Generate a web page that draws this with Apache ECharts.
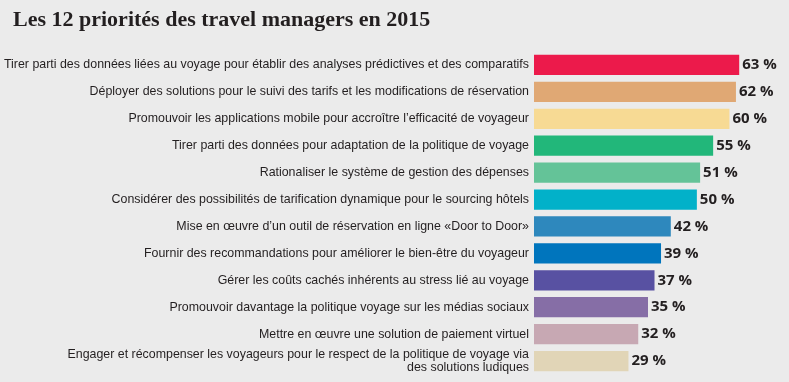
<!DOCTYPE html>
<html><head><meta charset="utf-8">
<script src="https://cdn.jsdelivr.net/npm/echarts@6/dist/echarts.min.js"></script>
<style>html,body{margin:0;padding:0;background:#ebebeb}#c{width:789px;height:382px}</style>
</head><body><div id="c"></div>
<script>
const categories = [
  "Tirer parti des données liées au voyage pour établir des analyses prédictives et des comparatifs",
  "Déployer des solutions pour le suivi des tarifs et les modifications de réservation",
  "Promouvoir les applications mobile pour accroître l’efficacité de voyageur",
  "Tirer parti des données pour adaptation de la politique de voyage",
  "Rationaliser le système de gestion des dépenses",
  "Considérer des possibilités de tarification dynamique pour le sourcing hôtels",
  "Mise en œuvre d’un outil de réservation en ligne «Door to Door»",
  "Fournir des recommandations pour améliorer le bien-être du voyageur",
  "Gérer les coûts cachés inhérents au stress lié au voyage",
  "Promouvoir davantage la politique voyage sur les médias sociaux",
  "Mettre en œuvre une solution de paiement virtuel",
  "Engager et récompenser les voyageurs pour le respect de la politique de voyage via\ndes solutions ludiques"
];
const values = [63, 62, 60, 55, 51, 50, 42, 39, 37, 35, 32, 29];
const colors = ["#ec1a4b","#e0a874","#f7da94","#22b77a","#64c398","#02b1c9","#2e88bd","#0075bd","#5851a2","#866ea6","#c7a8b3","#e1d5b7"];
const title = "Les 12 priorités des travel managers en 2015";

const chart = echarts.init(document.getElementById('c'));
chart.setOption({
  backgroundColor: '#ebebeb',
  animation: false,
  title: {
    text: title, left: 8, top: 4,
    textStyle: {fontFamily: 'Liberation Serif', fontWeight: 'bold', fontSize: 22, color: '#231f20'}
  },
  grid: {left: 534, right: 27, top: 51.5, bottom: 7.5},
  xAxis: {type: 'value', min: 0, max: 70, show: false},
  yAxis: {
    type: 'category', inverse: true, data: categories,
    axisLine: {show: false}, axisTick: {show: false},
    axisLabel: {
      margin: 5, fontFamily: 'Liberation Sans', fontSize: 12.4, color: '#231f20',
      lineHeight: 13, align: 'right'
    }
  },
  series: [{
    type: 'bar', barCategoryGap: '25%',
    data: values.map((v, i) => ({value: v, itemStyle: {color: colors[i]}})),
    label: {
      show: true, position: 'right', distance: 3,
      formatter: p => p.value + ' %',
      fontFamily: 'Open Sans', fontWeight: 'bold', fontSize: 15, color: '#231f20'
    }
  }]
});
</script></body></html>
